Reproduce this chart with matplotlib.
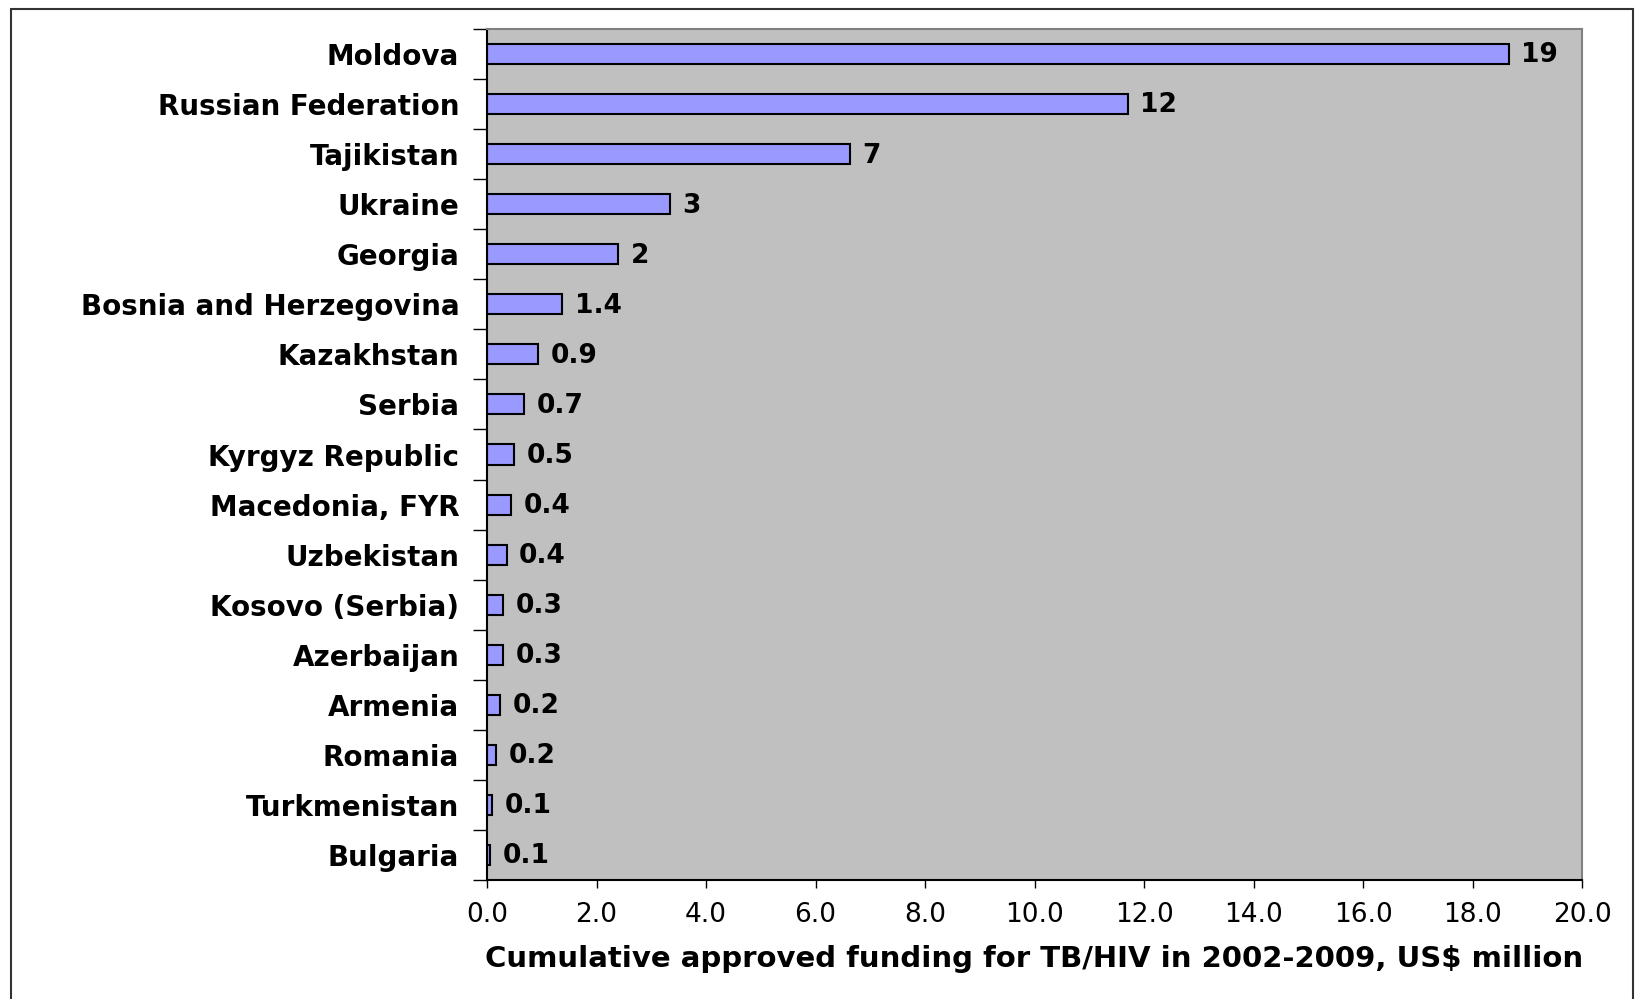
import matplotlib.pyplot as plt
from matplotlib.patches import Rectangle

# cumulative approved TB/HIV funding 2002-2009, US$ million
countries = ['Moldova', 'Russian Federation', 'Tajikistan', 'Ukraine', 'Georgia',
             'Bosnia and Herzegovina', 'Kazakhstan', 'Serbia', 'Kyrgyz Republic',
             'Macedonia, FYR', 'Uzbekistan', 'Kosovo (Serbia)', 'Azerbaijan',
             'Armenia', 'Romania', 'Turkmenistan', 'Bulgaria']
funding = [18.66, 11.70, 6.63, 3.34, 2.40, 1.37, 0.93, 0.68, 0.49,
           0.44, 0.36, 0.30, 0.30, 0.24, 0.16, 0.10, 0.06]
xticks = [0, 2, 4, 6, 8, 10, 12, 14, 16, 18, 20]


def fmt(v):
    # whole numbers for the big ones, one decimal below 2
    if v >= 2:
        return '%.0f' % v
    return '%.1f' % v


def main():
    plt.rcParams['font.family'] = ['DejaVu Sans']
    fig = plt.figure(figsize=(16.35, 9.99), dpi=100)
    ax = fig.add_axes([487 / 1635, 119 / 999, 1095 / 1635, 851 / 999])

    pos = list(range(len(countries)))
    ax.barh(pos, funding, height=0.4, color='#9999FF', edgecolor='black', linewidth=1.5)
    for p, v in zip(pos, funding):
        ax.annotate(fmt(v), (v, p), xytext=(9, -1), textcoords='offset points',
                    va='center', ha='left', fontsize=19, fontweight='bold')

    ax.set_xlim(0, 20)
    ax.set_ylim(len(countries) - 0.5, -0.5)
    ax.set_facecolor('#C0C0C0')

    ax.set_xticks(xticks)
    ax.set_xticklabels(['%.1f' % t for t in xticks], fontsize=19)
    ax.tick_params(axis='x', length=6, width=1, pad=10)

    ax.set_yticks(pos)
    ax.set_yticklabels(countries, fontsize=20, fontweight='bold')
    ax.tick_params(axis='y', length=0, pad=20)
    # ticks sit between the categories
    ax.set_yticks([p - 0.5 for p in pos] + [len(pos) - 0.5], minor=True)
    ax.tick_params(axis='y', which='minor', length=10, width=1)

    for s in ['left', 'bottom']:
        ax.spines[s].set_color('black')
        ax.spines[s].set_linewidth(1.5)
    for s in ['top', 'right']:
        ax.spines[s].set_color('#808080')
        ax.spines[s].set_linewidth(1.5)

    ax.set_xlabel('Cumulative approved funding for TB/HIV in 2002-2009, US$ million',
                  fontsize=21, fontweight='bold', labelpad=12)

    fig.patches.append(Rectangle((11 / 1635, -0.02), 1622 / 1635, 1.011,
                                 transform=fig.transFigure, fill=False,
                                 edgecolor='#333333', linewidth=1.5))

    fig.savefig('out.png', dpi=100)


if __name__ == '__main__':
    main()
